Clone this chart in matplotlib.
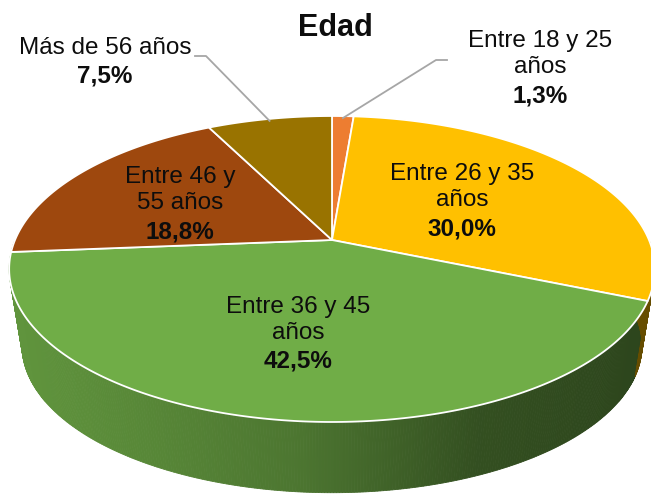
import matplotlib
matplotlib.use("Agg")
import matplotlib.pyplot as plt
import numpy as np
from matplotlib.patches import Polygon

# ──── DATA ───────────────────────────────────────────────────────────────────

title = "Edad"
categories = ["Entre 18 y 25\naños", "Entre 26 y 35\naños", "Entre 36 y 45\naños",
              "Entre 46 y\n55 años", "Más de 56 años"]
values = [1.3, 30.0, 42.5, 18.8, 7.5]
colors = ["#ED7D31", "#FFC000", "#70AD47", "#9E480E", "#997300"]

# label anchors in pixel space (name block centre x, name block centre y, percentage y)
label_pos = [(540, 54, 96), (462, 187, 229), (298, 320, 361), (180, 190, 232), (105, 48, 76)]
# leader lines for the outside labels (start, elbow)
leaders = {0: [(447, 60), (436, 60)], 4: [(195, 56), (206, 56)]}

# ──── PROJECTION ─────────────────────────────────────────────────────────────

plt.rcParams["font.family"] = ["Liberation Sans", "DejaVu Sans"]

W, H = 651, 494
cx, cy = 332, 240
p, q, k = 317, 147.5, 0.1895
depth = 78
shrink = 0.96


def proj(t, bottom=False):
    u, v = np.cos(t), np.sin(t)
    den = 1 + k * v
    if bottom:
        return cx + shrink * p * u / den, cy + depth - shrink * q * v / den
    return cx + p * u / den, cy - q * v / den


fig = plt.figure(figsize=(W / 100, H / 100), dpi=100)
ax = fig.add_axes([0, 0, 1, 1])
ax.set_xlim(0, W)
ax.set_ylim(H, 0)
ax.axis("off")

vals = np.array(values)
frac = vals / vals.sum()
edges = np.pi / 2 - 2 * np.pi * np.concatenate([[0], np.cumsum(frac)])


def slice_of(t):
    # which slice an angle falls in (clockwise from 12 o'clock)
    a = (np.pi / 2 - t) % (2 * np.pi)
    c = np.cumsum(frac) * 2 * np.pi
    return int(np.searchsorted(c, a))


def shade(x):
    return np.interp(x, [10, 150, 300, 480, 651], [0.86, 0.78, 0.68, 0.46, 0.40])


# side wall
ts = np.linspace(np.pi, 2 * np.pi, 400)
for t1, t2 in zip(ts[:-1], ts[1:]):
    i = slice_of(0.5 * (t1 + t2))
    x1, y1 = proj(t1)
    x2, y2 = proj(t2)
    x3, y3 = proj(t2, True)
    x4, y4 = proj(t1, True)
    base = np.array(matplotlib.colors.to_rgb(colors[i]))
    c = base * shade(0.5 * (x1 + x2))
    ax.add_patch(Polygon([(x1, y1), (x2, y2), (x3, y3), (x4, y4)], closed=True,
                         facecolor=c, edgecolor=c, lw=0.6, zorder=1))

# top face
for i in range(len(values)):
    tt = np.linspace(edges[i], edges[i + 1], 200)
    pts = [(cx, cy)] + [proj(t) for t in tt]
    ax.add_patch(Polygon(pts, closed=True, facecolor=colors[i], edgecolor="white",
                         lw=1.3, zorder=2, joinstyle="round"))

# labels
for i, (lx, ly, py) in enumerate(label_pos):
    pct = f"{values[i]:.1f}%".replace(".", ",")
    ax.text(lx, ly, categories[i], ha="center", va="center", fontsize=17.5,
            color="#0d0d0d", linespacing=1.22, zorder=5)
    ax.text(lx, py, pct, ha="center", va="center", fontsize=17.5,
            fontweight="bold", color="#0d0d0d", zorder=5)
    if i in leaders:
        tm = 0.5 * (edges[i] + edges[i + 1])
        ex, ey = proj(tm)
        (sx, sy), (bx, by) = leaders[i]
        ax.plot([sx, bx, ex], [sy, by, ey + 2], color="#a6a6a6", lw=1.3, zorder=4)

ax.text(335, 28, title, ha="center", va="center", fontsize=22, fontweight="bold",
        color="#0d0d0d")

fig.savefig("out.png", dpi=100)
